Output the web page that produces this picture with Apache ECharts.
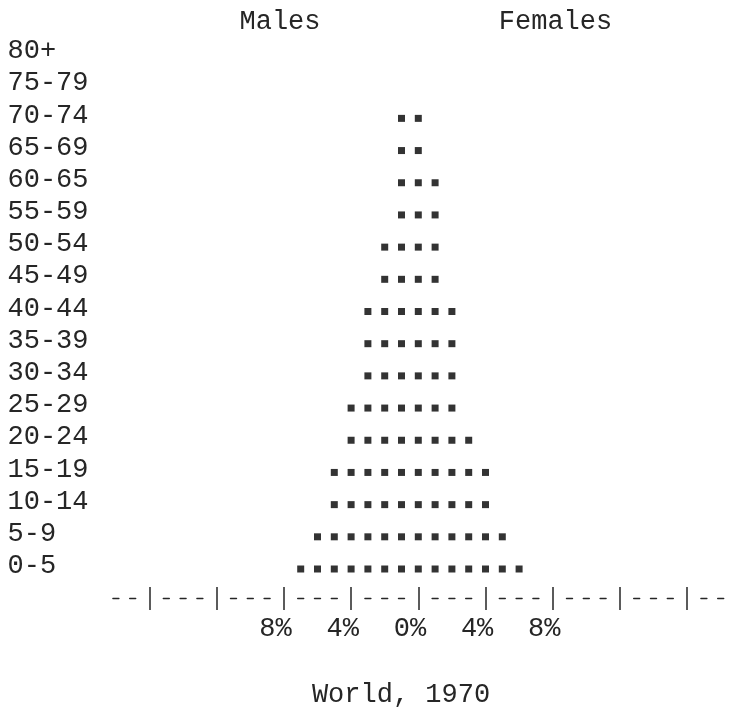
<!DOCTYPE html>
<html>
<head>
<meta charset="utf-8">
<style>
  html, body { margin: 0; padding: 0; background: #fff; }
  #chart { width: 733px; height: 713px; }
</style>
<script src="https://cdn.jsdelivr.net/npm/echarts@6/dist/echarts.min.js"></script>
</head>
<body>
<div id="chart"></div>
<script>
// Age groups, top row first
const ageGroups = ['80+', '75-79', '70-74', '65-69', '60-65', '55-59', '50-54', '45-49',
  '40-44', '35-39', '30-34', '25-29', '20-24', '15-19', '10-14', '5-9', '0-5'];
// Share of total population, percent (one square per percent)
const malesPct   = [0, 0, 1, 1, 1, 1, 2, 2, 3, 3, 3, 4, 4, 5, 5, 6, 7];
const femalesPct = [0, 0, 1, 1, 2, 2, 2, 2, 3, 3, 3, 3, 4, 5, 5, 6, 7];
// Percent scale ticks and their labels
const tickValues = [-16, -12, -8, -4, 0, 4, 8, 12, 16];
const labelValues = [-8, -4, 0, 4, 8];
const tickLabels = ['8%', '4%', '0%', '4%', '8%'];

const FONT = '"Liberation Mono", "DejaVu Sans Mono", monospace';
const FS = 27;
const INK = '#262626';

// one typed square per percent: males to the left of the zero column, females from it
const points = [];
ageGroups.forEach((g, i) => {
  for (let j = 0; j < malesPct[i]; j++) points.push([-(j + 1), g]);
  for (let j = 0; j < femalesPct[i]; j++) points.push([j, g]);
});

const chart = echarts.init(document.getElementById('chart'), null, { renderer: 'canvas' });
chart.setOption({
  animation: false,
  backgroundColor: '#fff',
  grid: { left: 107.5, right: 3.9, top: 34.9, bottom: 130.9, containLabel: false },
  xAxis: [
    {
      // dashed rule: one dash per column, gaps at the tick columns
      type: 'value', min: -18.5, max: 18.5, position: 'bottom', offset: 16,
      axisLine: { show: true, lineStyle: { color: INK, width: 1.4, type: [6, 10.8, 6, 10.8, 6, 27.6], dashOffset: 11.4 } },
      axisTick: { show: false }, axisLabel: { show: false }, splitLine: { show: false }
    },
    {
      type: 'value', min: -18.5, max: 18.5, position: 'bottom', offset: 5,
      axisLine: { show: false },
      axisTick: { show: true, customValues: tickValues, length: 23, lineStyle: { color: INK, width: 1.5 } },
      axisLabel: {
        show: true, customValues: labelValues, margin: 28,
        fontFamily: FONT, fontSize: FS, lineHeight: FS, color: INK,
        padding: [0, 16.8, 0, 0],
        formatter: v => tickLabels[labelValues.indexOf(Math.round(v))]
      },
      splitLine: { show: false }
    }
  ],
  yAxis: {
    type: 'category', data: ageGroups, inverse: true,
    axisLine: { show: false, onZero: false }, axisTick: { show: false }, splitLine: { show: false },
    axisLabel: { interval: 0, align: 'left', margin: 100, fontFamily: FONT, fontSize: FS, color: INK }
  },
  series: [{
    type: 'scatter', xAxisIndex: 0, data: points,
    symbol: 'rect', symbolSize: [7, 7], symbolOffset: [0, 3],
    itemStyle: { color: '#000' }
  }],
  graphic: [
    { type: 'text', style: { x: 280, y: 22, text: 'Males', font: FS + 'px ' + FONT, fill: INK, textAlign: 'center', textVerticalAlign: 'middle' } },
    { type: 'text', style: { x: 555.5, y: 22, text: 'Females', font: FS + 'px ' + FONT, fill: INK, textAlign: 'center', textVerticalAlign: 'middle' } },
    { type: 'text', style: { x: 401, y: 695, text: 'World, 1970', font: FS + 'px ' + FONT, fill: INK, textAlign: 'center', textVerticalAlign: 'middle' } }
  ]
});
</script>
</body>
</html>
